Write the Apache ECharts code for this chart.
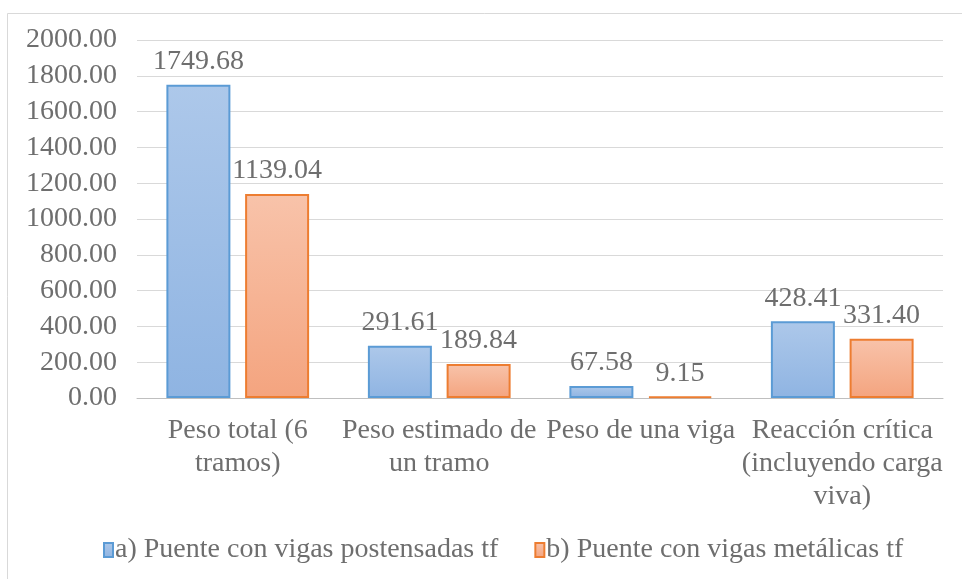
<!DOCTYPE html>
<html>
<head>
<meta charset="utf-8">
<script src="https://cdn.jsdelivr.net/npm/echarts@6/dist/echarts.min.js"></script>
<style>
  html, body { margin: 0; padding: 0; background: #fff; }
  #chart { width: 962px; height: 579px; }
</style>
</head>
<body>
<div id="chart"></div>
<script>
// Bridge comparison data (tf)
const categories = [
  'Peso total (6\ntramos)',
  'Peso estimado de\nun tramo',
  'Peso de una viga',
  'Reacción crítica\n(incluyendo carga\nviva)'
];
const seriesNames = [
  'a) Puente con vigas postensadas tf',
  'b) Puente con vigas metálicas tf'
];
const postensadas = [1749.68, 291.61, 67.58, 428.41];
const metalicas = [1139.04, 189.84, 9.15, 331.40];

const FONT = '"Liberation Serif", "Times New Roman", serif';
const TEXT = '#6e6e6e';

function grad(top, bottom) {
  return new echarts.graphic.LinearGradient(0, 0, 0, 1, [
    { offset: 0, color: top },
    { offset: 1, color: bottom }
  ]);
}

const chart = echarts.init(document.getElementById('chart'), null, { renderer: 'canvas' });

const labelStyle = {
  show: true,
  position: 'top',
  distance: 9,
  fontFamily: FONT,
  fontSize: 28,
  color: TEXT,
  formatter: p => p.value.toFixed(2)
};

chart.setOption({
  animation: false,
  backgroundColor: '#ffffff',
  graphic: [{
    type: 'polyline',
    shape: { points: [[7.5, 579], [7.5, 13.5], [962, 13.5]] },
    style: { stroke: '#d9d9d9', lineWidth: 1, fill: null },
    silent: true
  }],
  grid: { left: 137, right: 19, top: 40, bottom: 181, containLabel: false },
  legend: {
    top: 531,
    left: 98,
    icon: 'rect',
    itemWidth: 9,
    itemHeight: 14,
    itemGap: 36,
    textStyle: { fontFamily: FONT, fontSize: 28, color: TEXT, padding: [0, 0, 0, -3] },
    data: seriesNames
  },
  xAxis: {
    type: 'category',
    data: categories,
    axisLine: { show: true, lineStyle: { color: '#bfbfbf', width: 1 } },
    axisTick: { show: false },
    axisLabel: {
      interval: 0,
      margin: 16,
      fontFamily: FONT,
      fontSize: 28,
      color: TEXT,
      lineHeight: 33
    }
  },
  yAxis: {
    type: 'value',
    min: 0,
    max: 2000,
    interval: 200,
    axisLine: { show: false },
    axisTick: { show: false },
    splitLine: { lineStyle: { color: '#d9d9d9', width: 1 } },
    axisLabel: {
      margin: 20,
      fontFamily: FONT,
      fontSize: 28,
      color: TEXT,
      formatter: v => v.toFixed(2)
    }
  },
  series: [
    {
      name: seriesNames[0],
      type: 'bar',
      data: postensadas,
      barWidth: 64,
      barGap: '23%',
      itemStyle: {
        color: grad('#adc8ea', '#8fb4e2'),
        borderColor: '#5b9bd5',
        borderWidth: 2
      },
      label: labelStyle
    },
    {
      name: seriesNames[1],
      type: 'bar',
      data: metalicas,
      barWidth: 64,
      barGap: '23%',
      itemStyle: {
        color: grad('#f8c3aa', '#f4a47f'),
        borderColor: '#ed7d31',
        borderWidth: 2
      },
      label: labelStyle
    }
  ]
});
</script>
</body>
</html>
